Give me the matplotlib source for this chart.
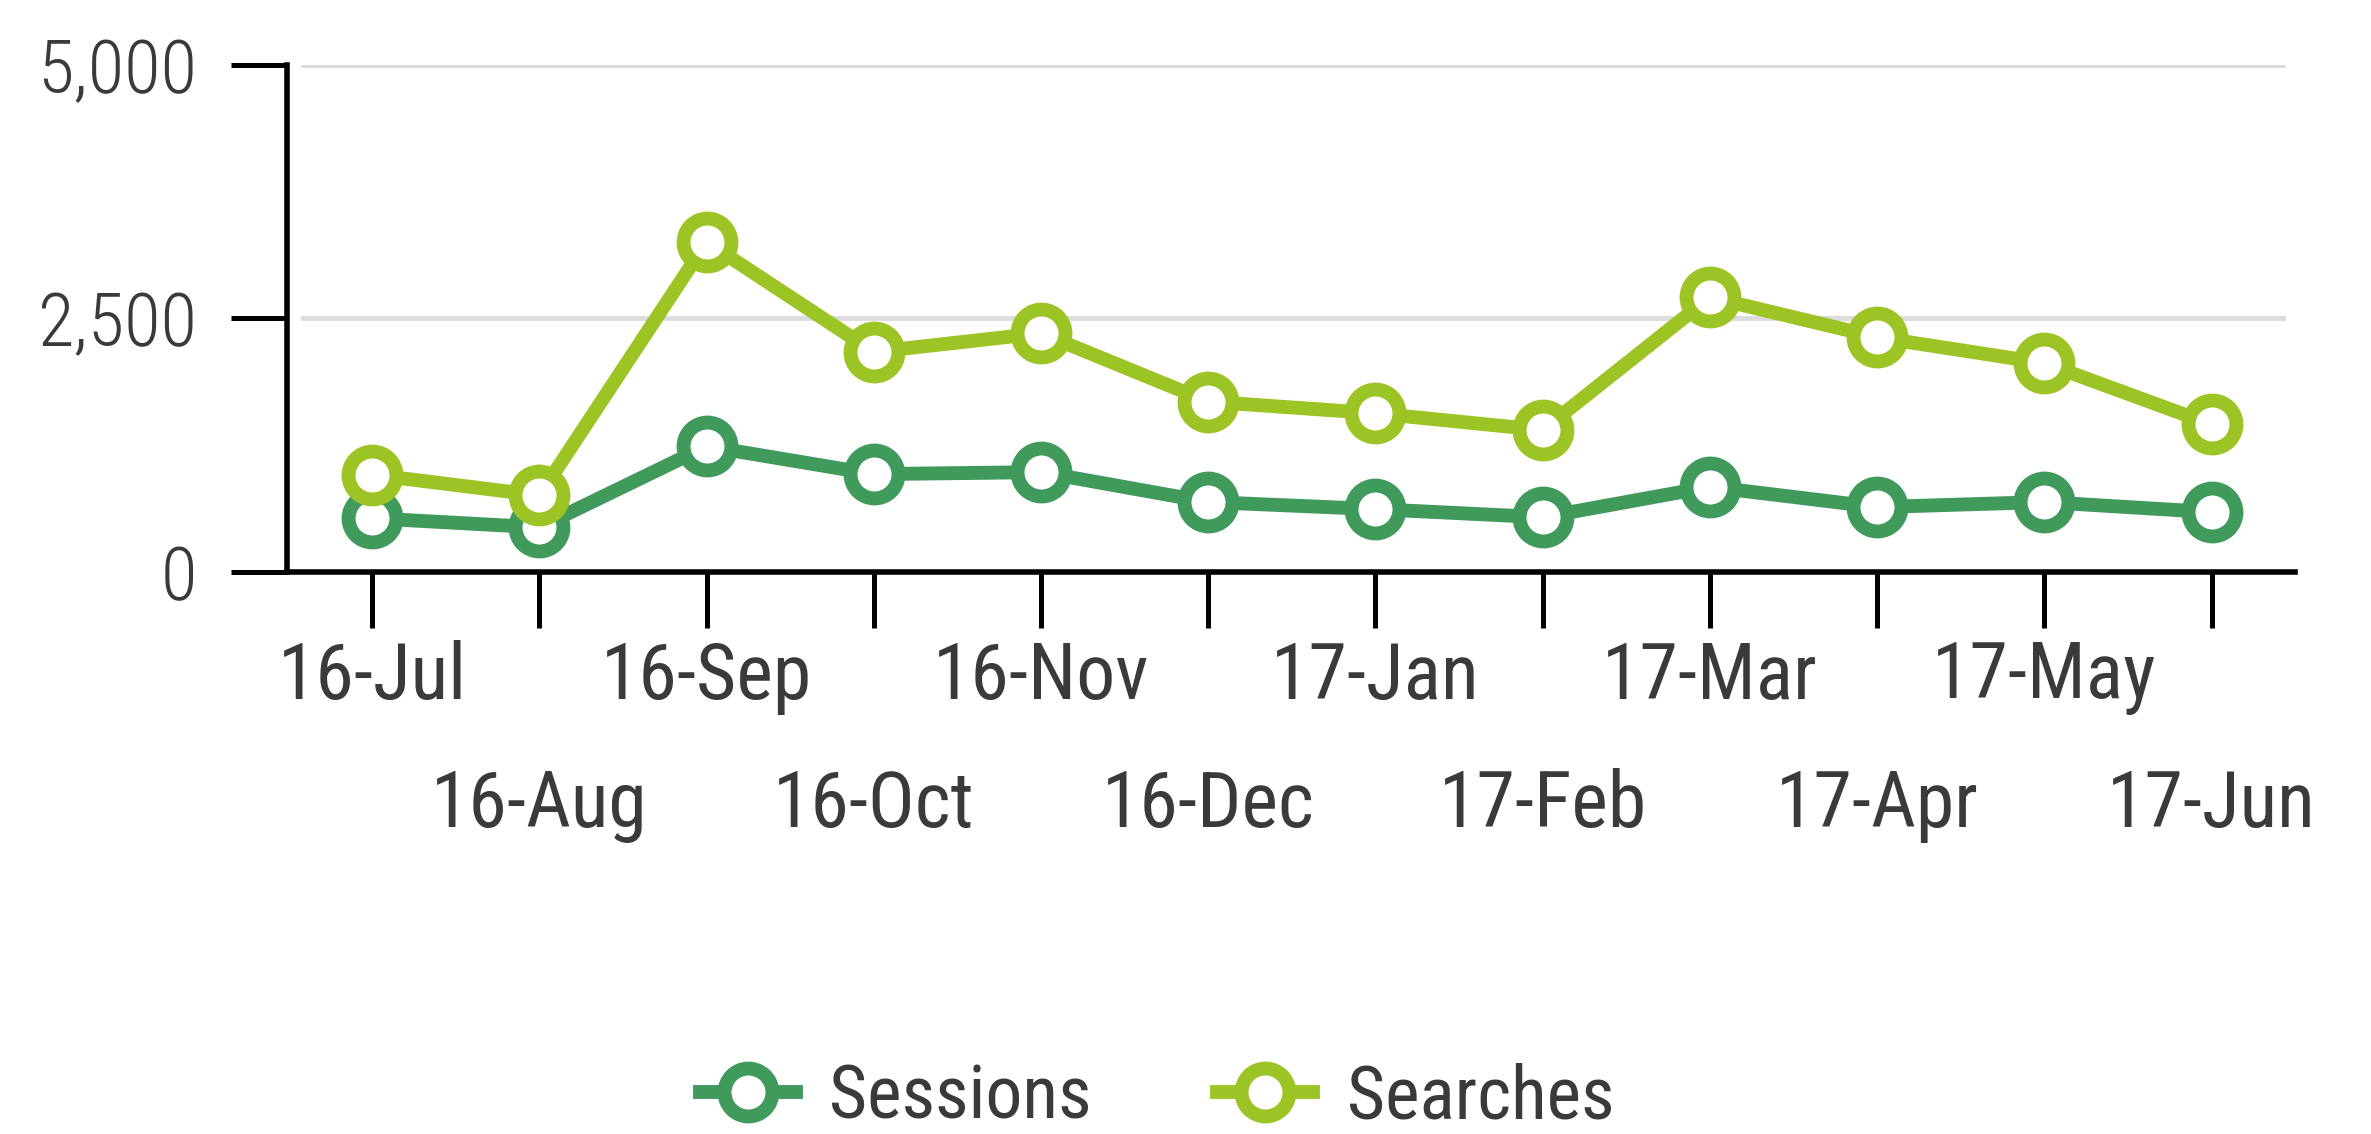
import matplotlib
matplotlib.use('Agg')
import matplotlib.pyplot as plt
from matplotlib import font_manager

# data
months = ['16-Jul', '16-Aug', '16-Sep', '16-Oct', '16-Nov', '16-Dec',
          '17-Jan', '17-Feb', '17-Mar', '17-Apr', '17-May', '17-Jun']
sessions = [530, 440, 1240, 965, 985, 690, 620, 540, 840, 640, 690, 590]
searches = [960, 755, 3255, 2170, 2355, 1680, 1565, 1400, 2710, 2315, 2060, 1455]
y_ticks = [0, 2500, 5000]
y_labels = ['0', '2,500', '5,000']


def find_font(names, weights):
    #first installed file matching one of the family names and weights
    for want in names:
        for w in weights:
            for f in font_manager.fontManager.ttflist:
                full = f.name
                if f.stretch == 'condensed' and 'ondensed' not in full:
                    full += ' Condensed'
                if full == want and f.weight == w and f.style == 'normal':
                    return font_manager.FontProperties(fname=f.fname)
    return font_manager.FontProperties(family='DejaVu Sans')


narrow = ['Roboto Condensed', 'Liberation Sans Narrow', 'Open Sans Condensed',
          'DejaVu Sans Condensed']
label_font = find_font(narrow, [400])
light_font = find_font(narrow, [300, 400])

sessions_color = '#3f9a5c'
searches_color = '#9cc424'
text_color = '#3a3a3a'

fig = plt.figure(figsize=(23.71, 11.34), dpi=100)
ax = fig.add_axes([0.121, 0.4956, 0.847, 0.4471])

x = list(range(len(months)))

#two series, white-filled ring markers
ax.plot(x, sessions, color=sessions_color, lw=10, marker='o', ms=34.5,
        mfc='white', mec=sessions_color, mew=10, label='Sessions', zorder=3)
ax.plot(x, searches, color=searches_color, lw=10, marker='o', ms=34.5,
        mfc='white', mec=searches_color, mew=10, label='Searches', zorder=4)

ax.set_xlim(-0.51, 11.5)
ax.set_ylim(0, 5000)

#light horizontal gridlines at 2,500 and 5,000
for v in y_ticks[1:]:
    ax.axhline(v, color='#dcdcdc', lw=3.5, zorder=1, xmin=0.008, xmax=0.994)

for side in ['top', 'right']:
    ax.spines[side].set_visible(False)
for side in ['left', 'bottom']:
    ax.spines[side].set_linewidth(4)
    ax.spines[side].set_color('black')

ax.set_yticks(y_ticks)
ax.set_yticklabels(y_labels, fontproperties=light_font, fontsize=54, color=text_color)
ax.tick_params(axis='y', length=40, width=3.6, pad=25, color='black')

ax.set_xticks(x)
ax.set_xticklabels(months, fontproperties=label_font, fontsize=56, color=text_color)
ax.tick_params(axis='x', length=40, width=3.6, color='black')

#stagger the month labels on two rows
for i, tick in enumerate(ax.xaxis.get_major_ticks()):
    tick.set_pad(9 if i % 2 == 0 else 101)

leg_font = label_font.copy()
leg_font.set_size(53)
fig.legend(loc='center', bbox_to_anchor=(0.488, 0.032), ncol=2, frameon=False,
           prop=leg_font, handlelength=1.3, handletextpad=0.46, columnspacing=1.7,
           markerscale=1.0, labelcolor=text_color)

fig.savefig('out.png', dpi=100, facecolor='white')
